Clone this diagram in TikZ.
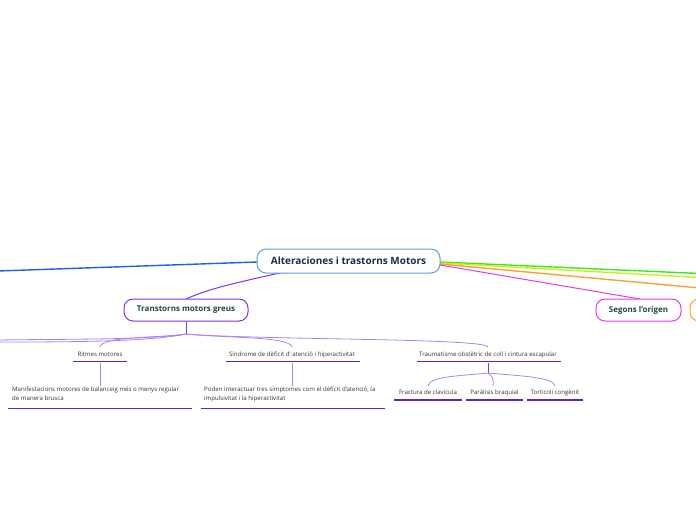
\documentclass[tikz,border=0pt]{standalone}
\usepackage{fontspec}
\setmainfont{Open Sans}
\begin{document}
\begin{tikzpicture}[x=1pt,y=-1pt,
  mainbox/.style={draw=#1,line width=1pt,rounded corners=9pt,fill=white,inner sep=0pt},
  conn/.style={draw=#1,line width=1.4pt},
  sub/.style={draw=purpleline,line width=0.8pt},
  uline/.style={draw=deeppurple,line width=1.6pt},
  small/.style={font=\fontsize{6.1}{8.8}\selectfont,text=textgray,inner sep=0pt}
]
\definecolor{bluebr}{HTML}{1F5FE8}
\definecolor{lightblue}{HTML}{5AA0DA}
\definecolor{navy}{HTML}{1A2B4C}
\definecolor{purplebr}{HTML}{7A35F2}
\definecolor{purpleline}{HTML}{A783F8}
\definecolor{deeppurple}{HTML}{5A1FE6}
\definecolor{darkgreen}{HTML}{1E4A3C}
\definecolor{magenta}{HTML}{E23CE6}
\definecolor{orangebr}{HTML}{FFA02A}
\definecolor{greenbr}{HTML}{3EE61A}
\definecolor{yellowbr}{HTML}{C8F01E}
\definecolor{textgray}{HTML}{333333}
\path[use as bounding box,clip] (0,0) rectangle (696,520);

% off-canvas ends
\coordinate (leftend) at (-2,271);
\coordinate (greenend) at (700,273.5);
\coordinate (yellowend) at (700,277.5);
\coordinate (orangeend) at (700,288);
\coordinate (lefta) at (-2,340);
\coordinate (leftb) at (-2,342);
\coordinate (tjunc) at (186,334);
\coordinate (trjunc) at (488,373);

% connectors behind nodes
\draw[conn=bluebr] (257,262) -- (leftend);
\draw[conn=greenbr] (440,262) -- (greenend);
\draw[conn=yellowbr] (440,263) -- (yellowend);
\draw[conn=orangebr] (440,264) -- (orangeend);
\draw[draw=magenta,line width=1pt] (440,265) -- (640,299);
\draw[draw=purplebr,line width=1pt] (284,272) .. controls (240,282) and (210,288) .. (186,299);

% main nodes
\node[mainbox=lightblue,minimum width=183pt,minimum height=24pt,font=\fontsize{10}{12}\bfseries\selectfont,text=navy] (main) at (348.5,261) {Alteraciones i trastorns Motors};
\node[mainbox=purplebr,minimum width=124pt,minimum height=22pt,font=\fontsize{8}{9.6}\bfseries\selectfont,text=darkgreen] (greus) at (186,310) {Transtorns motors greus};
\node[mainbox=magenta,minimum width=85pt,minimum height=22pt,font=\fontsize{8}{9.6}\bfseries\selectfont,text=darkgreen] (segons) at (638.5,310) {Segons l'origen};
\node[mainbox=orangebr,minimum width=70pt,minimum height=22pt] (orangenode) at (725,310) {};

% branches from Transtorns
\draw[purplebr,line width=1pt] (greus.south) -- (tjunc);
\draw[sub] (tjunc) .. controls (150,340) and (60,339) .. (lefta);
\draw[sub] (tjunc) .. controls (150,342) and (60,342) .. (leftb);
\coordinate (ritop) at (100,347);
\coordinate (sitop) at (292,347);
\coordinate (trtop) at (488,347);
\draw[sub] (tjunc) .. controls (160,338) and (102,336) .. (ritop);
\draw[sub] (tjunc) .. controls (220,338) and (290,336) .. (sitop);
\draw[sub] (tjunc) .. controls (260,340) and (486,338) .. (trtop);

% level 2 labels
\node[small,anchor=base] (ritmes) at (100,356) {Ritmes motores};
\draw[uline] (73,361.5) -- (127,361.5);
\node[small,anchor=base] (sindrome) at (292,356) {Síndrome de dèficit d' atenció i hiperactivitat};
\draw[uline] (226,361.5) -- (360,361.5);
\node[small,anchor=base] (trauma) at (488,356) {Traumatisme obstètric de coll i cintura escapular};
\draw[uline] (417,361.5) -- (561,361.5);

% sub descriptions
\draw[sub] (100,362.5) -- (100,386);
\node[small,anchor=north west,align=left] (manif) at (12,386.5) {Manifestacions motores de balanceig més o menys regular\\de manera brusca};
\draw[uline] (8,408.5) -- (192,408.5);
\draw[sub] (292,362.5) -- (292,386);
\node[small,anchor=north west,align=left] (poden) at (204,386.5) {Poden interactuar tres símptomes com el dèficit d'atenció, la\\impulsivitat i la hiperactivitat};
\draw[uline] (201,408.5) -- (385,408.5);

% Traumatisme children
\draw[purplebr,line width=1pt] (488,362.5) -- (trjunc);
\coordinate (frtop) at (428,386);
\coordinate (patop) at (493,386);
\coordinate (totop) at (555,386);
\draw[sub] (trjunc) .. controls (460,376) and (430,376) .. (frtop);
\draw[sub] (trjunc) .. controls (492,376) and (494,378) .. (patop);
\draw[sub] (trjunc) .. controls (520,376) and (554,377) .. (totop);
\node[small,anchor=base] (fract) at (428,394) {Fractura de  clavícula};
\draw[uline] (394,400) -- (462,400);
\node[small,anchor=base] (parab) at (494.5,394) {Paràlisis braquial};
\draw[uline] (466,400) -- (523,400);
\node[small,anchor=base] (tort) at (555,394) {Torticoli congènit};
\draw[uline] (527,400) -- (583,400);
\end{tikzpicture}
\end{document}
